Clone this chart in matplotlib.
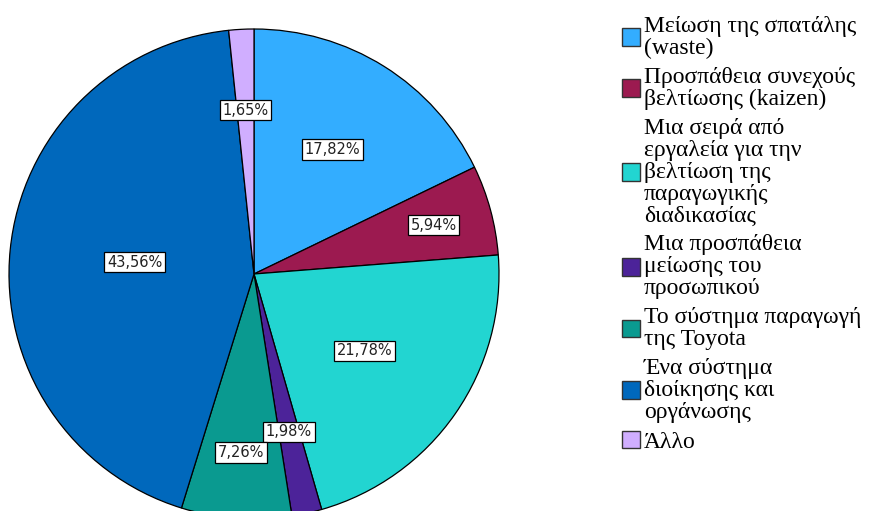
import numpy as np
import matplotlib.pyplot as plt
from matplotlib.patches import Patch

# Απαντήσεις (%) ανά κατηγορία
categories = [
    'Μείωση της σπατάλης\n(waste)',
    'Προσπάθεια συνεχούς\nβελτίωσης (kaizen)',
    'Μια σειρά από\nεργαλεία για την\nβελτίωση της\nπαραγωγικής\nδιαδικασίας',
    'Μια προσπάθεια\nμείωσης του\nπροσωπικού',
    'Το σύστημα παραγωγή\nτης Toyota',
    'Ένα σύστημα\nδιοίκησης και\nοργάνωσης',
    'Άλλο',
]
percentages = [17.82, 5.94, 21.78, 1.98, 7.26, 43.56, 1.65]
pct_labels = ['17,82%', '5,94%', '21,78%', '1,98%', '7,26%', '43,56%', '1,65%']

colors = ['#33adff', '#9c1a50', '#22d5d1', '#4c2399', '#0a9a90', '#0068bc', '#d0aeff']
label_radius = [0.60, 0.76, 0.55, 0.66, 0.73, 0.49, 0.67]

W, H = 873, 511
fig = plt.figure(figsize=(W / 100, H / 100), dpi=100)
ax = fig.add_axes([0, 0, 1, 1])

cx, cy, r = 254, H - 274, 245
wedges, _ = ax.pie(percentages, colors=colors, startangle=90, counterclock=False,
                   center=(cx, cy), radius=r, frame=True,
                   wedgeprops=dict(edgecolor='black', linewidth=0.9))
ax.set_xlim(0, W)
ax.set_ylim(0, H)
ax.set_aspect('equal')
ax.axis('off')

for w, lab, f in zip(wedges, pct_labels, label_radius):
    ang = np.deg2rad((w.theta1 + w.theta2) / 2)
    x = cx + f * r * np.cos(ang)
    y = cy + f * r * np.sin(ang)
    ax.text(x, y, lab, ha='center', va='center', fontsize=10.5,
            family='DejaVu Sans', color='#222222',
            bbox=dict(boxstyle='square,pad=0.18', facecolor='white',
                      edgecolor='black', linewidth=0.9))

handles = [Patch(facecolor=c, edgecolor='#333333', linewidth=1.0) for c in colors]
leg = fig.legend(handles, categories, loc='upper left',
                 bbox_to_anchor=(622 / W, 1 - 16 / H), frameon=False,
                 prop=dict(family='Liberation Serif', size=17),
                 handlelength=0.78, handleheight=0.78, handletextpad=0.15,
                 labelspacing=0.33, borderaxespad=0, borderpad=0)
for t in leg.get_texts():
    t.set_linespacing(1.06)

fig.savefig('out.png', dpi=100)
